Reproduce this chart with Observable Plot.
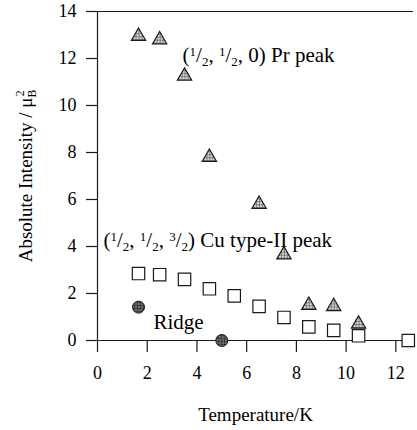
<!DOCTYPE html>
<html><head><meta charset="utf-8">
<script src="https://cdn.jsdelivr.net/npm/d3@7"></script>
<script src="https://cdn.jsdelivr.net/npm/@observablehq/plot@0.6"></script>
<style>body{margin:0;background:#fff;font-family:"Liberation Serif"} #chart svg, #chart svg text, #chart svg tspan{font-family:"Liberation Serif"}</style>
</head><body><div id="chart"></div>
<script>
// (1/2, 1/2, 0) Pr peak
const prTemp = [1.65, 2.5, 3.5, 4.5, 6.5, 7.5, 8.5, 9.5, 10.5];
const prInt  = [12.95, 12.8, 11.25, 7.8, 5.8, 3.65, 1.5, 1.45, 0.7];
// (1/2, 1/2, 3/2) Cu type-II peak
const cuTemp = [1.65, 2.5, 3.5, 4.5, 5.5, 6.5, 7.5, 8.5, 9.5, 10.5, 12.5];
const cuInt  = [2.85, 2.8, 2.6, 2.2, 1.9, 1.45, 0.98, 0.58, 0.43, 0.2, 0];
// Ridge
const ridgeTemp = [1.65, 5.0];
const ridgeInt  = [1.42, 0];

const xTicks = [0, 2, 4, 6, 8, 10, 12];
const yTicks = [0, 2, 4, 6, 8, 10, 12, 14];

const annoText = ["(1/2, 1/2, 0) Pr peak", "(1/2, 1/2, 3/2) Cu type-II peak", "Ridge"];
const annoX = [3.42, 0.24, 2.25];
const annoY = [12.13, 4.26, 0.77];

const xLabel = "Temperature/K";
const yLabel = "Absolute Intensity / μB2";

const pr = prTemp.map((t, i) => ({t, v: prInt[i]}));
const cu = cuTemp.map((t, i) => ({t, v: cuInt[i]}));
const ridge = ridgeTemp.map((t, i) => ({t, v: ridgeInt[i]}));
const anno = annoText.map((s, i) => ({s, x: annoX[i], y: annoY[i]}));

const ink = "#1a1a1a";
const chart = Plot.plot({
  width: 417, height: 430,
  marginLeft: 97, marginRight: 4, marginTop: 11, marginBottom: 90,
  style: {fontFamily: "Liberation Serif", fontSize: "18px"},
  x: {domain: [0, 12.71]},
  y: {domain: [0, 14]},
  marks: [
    Plot.ruleY([0, 14], {stroke: ink, strokeWidth: 1.2}),
    Plot.ruleX([0], {stroke: ink, strokeWidth: 1.2}),
    Plot.axisX({ticks: xTicks, tickSize: 12, tickPadding: 14, tickFormat: d => String(d), stroke: ink, strokeWidth: 1.2,
      label: xLabel, labelAnchor: "center", labelOffset: 80, labelArrow: "none", fontSize: 18, fontFamily: "Liberation Serif"}),
    Plot.axisY({ticks: yTicks, tickSize: 11, tickPadding: 10, tickFormat: d => String(d), stroke: ink, strokeWidth: 1.2,
      label: yLabel, labelAnchor: "center", labelOffset: 79, labelArrow: "none", fontSize: 18, fontFamily: "Liberation Serif"}),
    Plot.dot(cu, {x: "t", y: "v", symbol: "square", r: 7.0, fill: "white", stroke: ink, strokeWidth: 1.2}),
    Plot.dot(pr, {x: "t", y: "v", symbol: "triangle", r: 5.3, fill: "url(#triPat)", stroke: ink, strokeWidth: 1.2}),
    Plot.dot(ridge, {x: "t", y: "v", symbol: "circle", r: 6, fill: "url(#cirPat)", stroke: ink, strokeWidth: 1}),
    Plot.text(anno, {x: "x", y: "y", text: "s", textAnchor: "start", lineAnchor: "middle", fontSize: 21, fontFamily: "Liberation Serif", fill: "#000"})
  ]
});

const svg = d3.select(chart).attr("font-family", "Liberation Serif");
const defs = svg.insert("defs", ":first-child");
const tp = defs.append("pattern").attr("id", "triPat").attr("patternUnits", "userSpaceOnUse").attr("width", 3).attr("height", 3);
tp.append("rect").attr("width", 3).attr("height", 3).attr("fill", "#d6d6d6");
tp.append("path").attr("d", "M0,0.5H3M0.5,0V3").attr("stroke", "#6a6a6a").attr("stroke-width", 0.8);
const cp = defs.append("pattern").attr("id", "cirPat").attr("patternUnits", "userSpaceOnUse").attr("width", 3).attr("height", 3);
cp.append("rect").attr("width", 3).attr("height", 3).attr("fill", "#222");
cp.append("path").attr("d", "M0,0.5H3M0.5,0V3").attr("stroke", "#9a9a9a").attr("stroke-width", 0.7);

// fractions as super/subscripts
function fracify(node) {
  const s = node.textContent;
  const sel = d3.select(node);
  sel.text(null);
  const re = /(\d)\/(\d)/g;
  let last = 0, m;
  while ((m = re.exec(s))) {
    if (m.index > last) sel.append("tspan").text(s.slice(last, m.index));
    sel.append("tspan").attr("font-size", "0.62em").attr("baseline-shift", "45%").text(m[1]);
    sel.append("tspan").text("/");
    sel.append("tspan").attr("font-size", "0.62em").attr("baseline-shift", "-30%").text(m[2]);
    last = re.lastIndex;
  }
  if (last < s.length) sel.append("tspan").text(s.slice(last));
}
svg.selectAll("g[aria-label='text'] text").each(function() { fracify(this); });

// x label font
svg.selectAll("g[aria-label='x-axis label'] text").attr("font-size", 19);
// y label with μ_B^2
svg.selectAll("g[aria-label='y-axis label'] text").each(function() {
  const sel = d3.select(this).attr("font-size", 19);
  sel.text(null);
  sel.append("tspan").text("Absolute Intensity / μ");
  sel.append("tspan").attr("font-size", "0.62em").attr("baseline-shift", "-35%").text("B");
  sel.append("tspan").attr("font-size", "0.62em").attr("dx", "-0.55em").attr("baseline-shift", "70%").text("2");
});
svg.selectAll("text").attr("font-family", "Liberation Serif");

document.getElementById("chart").appendChild(chart);
</script>
</body></html>
